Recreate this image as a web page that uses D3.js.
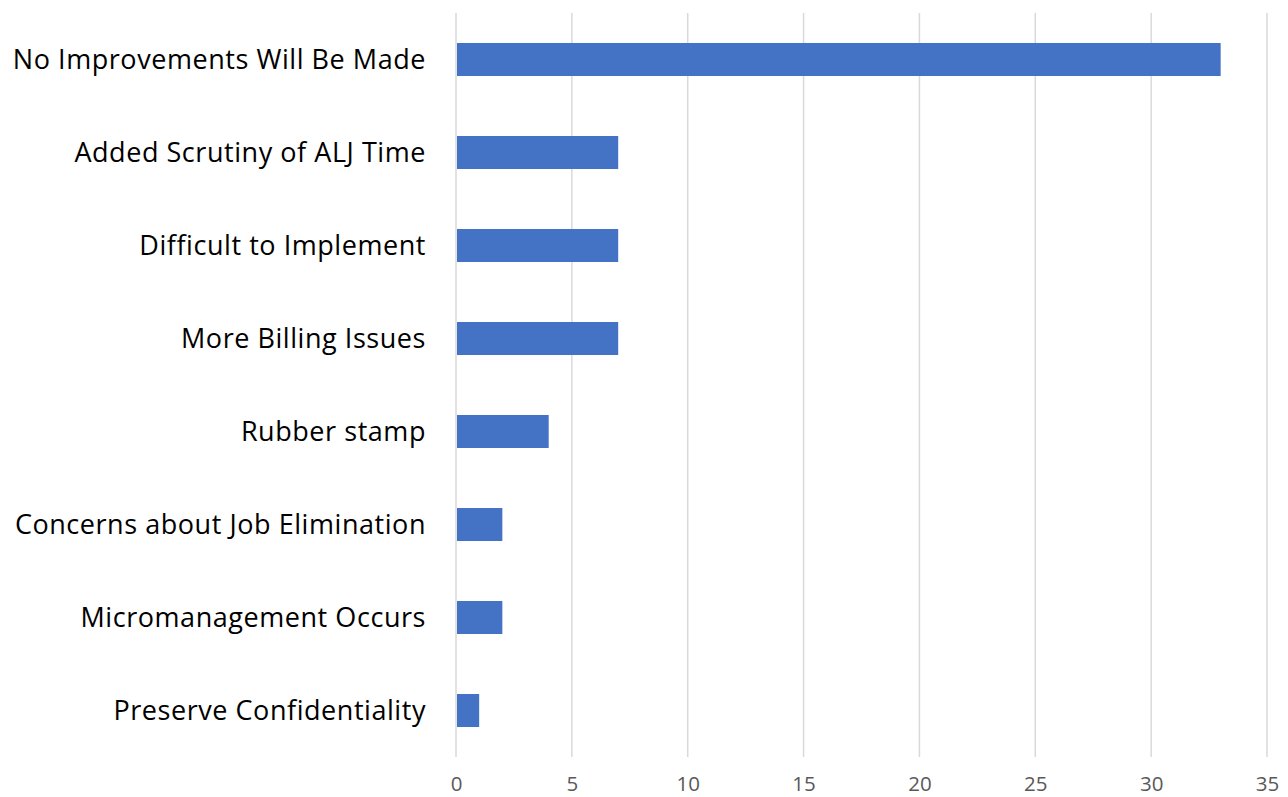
<!DOCTYPE html>
<html>
<head>
<meta charset="utf-8">
<script src="https://cdn.jsdelivr.net/npm/d3@7"></script>
<style>
  html, body { margin: 0; padding: 0; background: #ffffff; }
  svg { display: block; }
</style>
</head>
<body>
<script>
// Survey responses: concerns about the proposed change
const categories = [
  "No Improvements Will Be Made",
  "Added Scrutiny of ALJ Time",
  "Difficult to Implement",
  "More Billing Issues",
  "Rubber stamp",
  "Concerns about Job Elimination",
  "Micromanagement Occurs",
  "Preserve Confidentiality"
];
const counts = [33, 7, 7, 7, 4, 2, 2, 1];
const tickValues = [0, 5, 10, 15, 20, 25, 30, 35];

const width = 1288, height = 797;
const margin = { top: 13, right: 21, bottom: 40, left: 456 };

const svg = d3.select("body").append("svg")
  .attr("width", width)
  .attr("height", height);

const x = d3.scaleLinear()
  .domain([0, 35])
  .range([margin.left, width - margin.right]);

const y = d3.scaleBand()
  .domain(categories)
  .range([margin.top, height - margin.bottom])
  .paddingInner(0.645)
  .paddingOuter(0.3225);

// vertical gridlines
svg.append("g")
  .selectAll("line")
  .data(tickValues)
  .join("line")
  .attr("x1", d => x(d))
  .attr("x2", d => x(d))
  .attr("y1", margin.top)
  .attr("y2", height - margin.bottom)
  .attr("stroke", "#d9d9d9")
  .attr("stroke-width", 1.5);

// bars
svg.append("g")
  .selectAll("rect")
  .data(counts)
  .join("rect")
  .attr("x", x(0) + 1)
  .attr("y", (d, i) => y(categories[i]))
  .attr("width", d => x(d) - x(0) - 1)
  .attr("height", y.bandwidth())
  .attr("fill", "#4472c4");

// bottom axis labels
const xAxis = d3.axisBottom(x)
  .tickValues(tickValues)
  .tickSize(0)
  .tickPadding(19);
const gx = svg.append("g")
  .attr("transform", `translate(0,${height - margin.bottom})`)
  .call(xAxis);
gx.select(".domain").remove();
gx.selectAll("text")
  .attr("fill", "#595959")
  .style("font-family", "'Open Sans', sans-serif")
  .style("font-size", "20.5px");

// category labels
const yAxis = d3.axisLeft(y).tickSize(0).tickPadding(30);
const gy = svg.append("g")
  .attr("transform", `translate(${margin.left},0)`)
  .call(yAxis);
gy.select(".domain").remove();
gy.selectAll("text")
  .attr("fill", "#000000")
  .attr("dy", "0.36em")
  .style("font-family", "'Open Sans', sans-serif")
  .style("font-size", "27px")
  .style("letter-spacing", "0.55px");
</script>
</body>
</html>
